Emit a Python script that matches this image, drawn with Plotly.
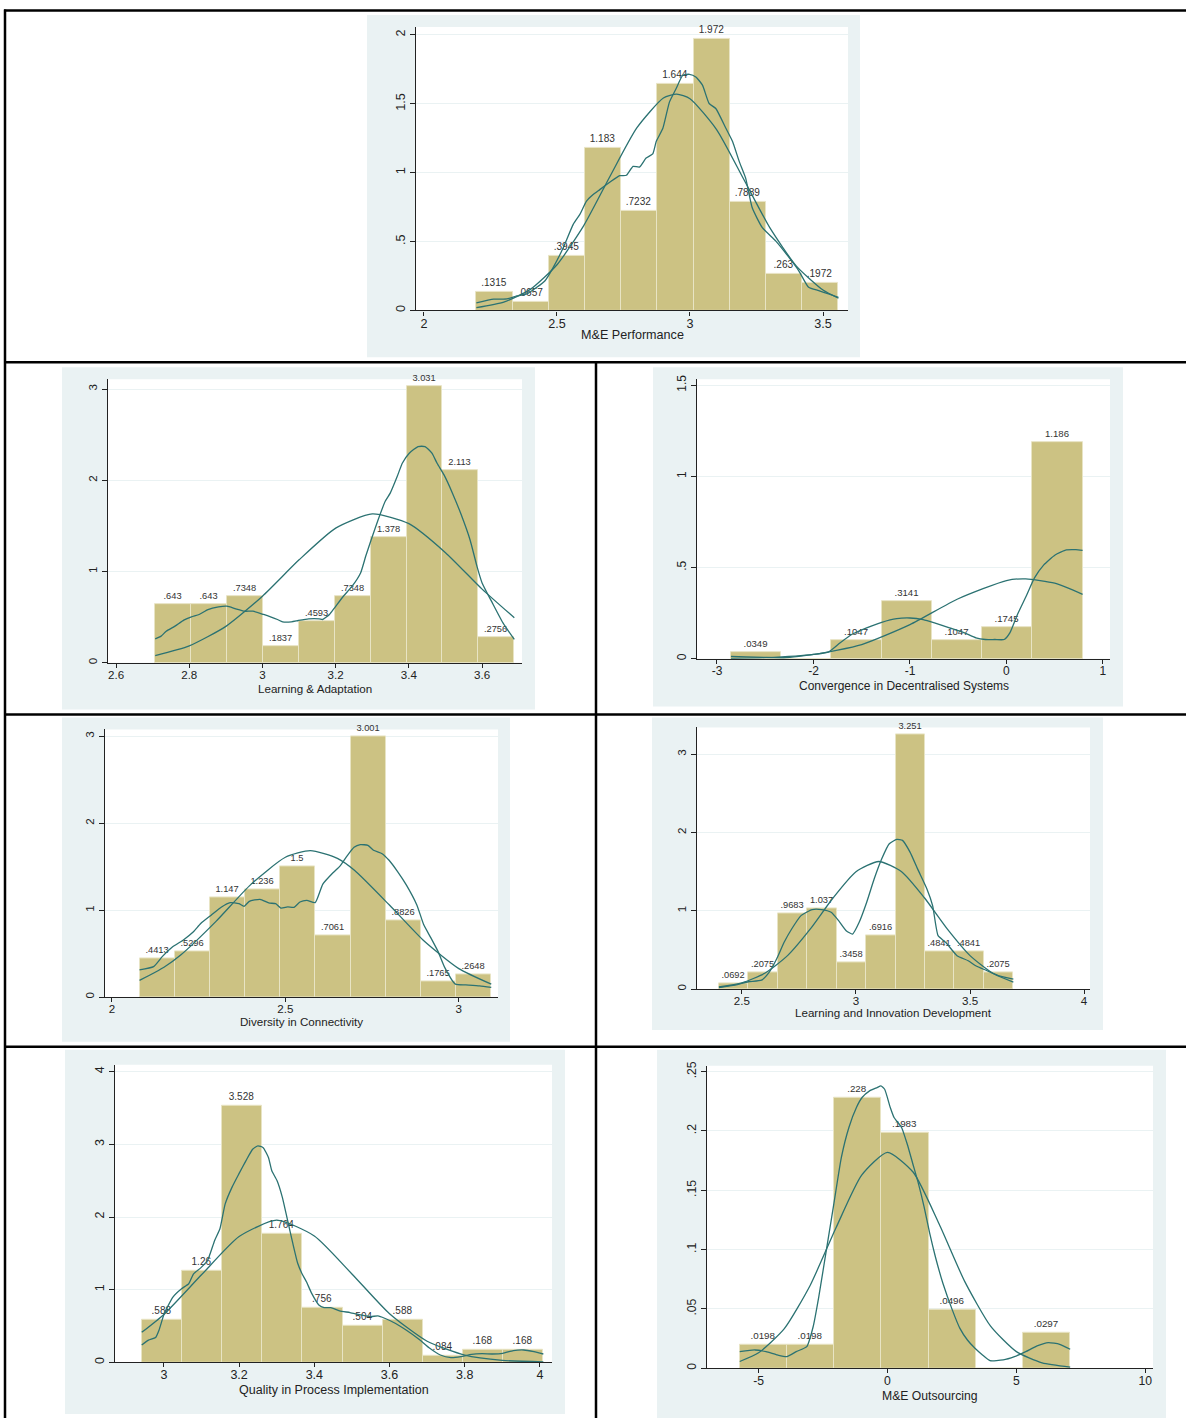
import plotly.graph_objects as go

W, H = 1186, 1420

# ---------------- data ----------------
# Panel 1
p1_title = "M&E Performance"
p1_bin_start, p1_bin_width = 2.197, 0.1361
p1_heights = [0.1315, 0.0657, 0.3945, 1.183, 0.7232, 1.644, 1.972, 0.7889, 0.263, 0.1972]
p1_xticks = [2, 2.5, 3, 3.5]
p1_yticks = [0, 0.5, 1, 1.5, 2]
p1_norm_x = [2.197, 2.3, 2.4, 2.5, 2.6, 2.7, 2.8, 2.9, 2.95, 3.0, 3.1, 3.2, 3.3, 3.4, 3.5, 3.558]
p1_norm_y = [0.021, 0.061, 0.153, 0.332, 0.614, 0.976, 1.325, 1.542, 1.570, 1.537, 1.313, 0.960, 0.601, 0.322, 0.148, 0.089]
p1_kde_x = [2.197, 2.262, 2.312, 2.349, 2.387, 2.424, 2.455, 2.486, 2.524, 2.561, 2.586, 2.611, 2.636, 2.661,
            2.698, 2.736, 2.761, 2.786, 2.810, 2.835, 2.860, 2.873, 2.898, 2.923, 2.948, 2.973, 2.998, 3.022,
            3.047, 3.072, 3.097, 3.135, 3.160, 3.185, 3.209, 3.234, 3.272, 3.322, 3.372, 3.409, 3.446, 3.484,
            3.521, 3.558]
p1_kde_y = [0.055, 0.082, 0.084, 0.106, 0.120, 0.168, 0.216, 0.313, 0.457, 0.625, 0.697, 0.793, 0.841, 0.877,
            0.930, 0.978, 0.981, 1.046, 1.041, 1.106, 1.137, 1.226, 1.322, 1.514, 1.611, 1.707, 1.714, 1.695,
            1.635, 1.502, 1.466, 1.322, 1.226, 1.082, 0.962, 0.745, 0.601, 0.505, 0.385, 0.288, 0.168, 0.144,
            0.120, 0.096]

# Panel 2
p2_title = "Learning & Adaptation"
p2_bin_start, p2_bin_width = 2.707, 0.0981
p2_heights = [0.643, 0.643, 0.7348, 0.1837, 0.4593, 0.7348, 1.378, 3.031, 2.113, 0.2756]
p2_xticks = [2.6, 2.8, 3, 3.2, 3.4, 3.6]
p2_yticks = [0, 1, 2, 3]
p2_norm_x = [2.707, 2.8, 2.9, 3.0, 3.1, 3.2, 3.3, 3.4, 3.5, 3.6, 3.688]
p2_norm_y = [0.078, 0.185, 0.399, 0.730, 1.128, 1.476, 1.632, 1.525, 1.207, 0.807, 0.493]
p2_kde_x = [2.707, 2.723, 2.737, 2.761, 2.785, 2.806, 2.827, 2.851, 2.880, 2.903, 2.927, 2.951, 2.974, 3.003,
            3.022, 3.041, 3.055, 3.079, 3.098, 3.126, 3.155, 3.164, 3.183, 3.197, 3.221, 3.245, 3.268, 3.282,
            3.297, 3.316, 3.335, 3.349, 3.368, 3.382, 3.401, 3.425, 3.444, 3.463, 3.477, 3.496, 3.519, 3.543,
            3.567, 3.586, 3.600, 3.628, 3.657, 3.688]
p2_kde_y = [0.262, 0.292, 0.346, 0.401, 0.467, 0.503, 0.529, 0.583, 0.612, 0.620, 0.591, 0.565, 0.565, 0.529,
            0.503, 0.474, 0.449, 0.449, 0.463, 0.481, 0.481, 0.474, 0.529, 0.602, 0.729, 0.839, 0.984, 1.167,
            1.349, 1.568, 1.768, 1.859, 2.041, 2.187, 2.297, 2.370, 2.370, 2.297, 2.187, 2.059, 1.859, 1.622,
            1.349, 1.057, 0.875, 0.656, 0.437, 0.255]

# Panel 3
p3_title = "Convergence in Decentralised Systems"
p3_bin_start, p3_bin_width = -2.855, 0.5206
p3_heights = [0.0349, 0, 0.1047, 0.3141, 0.1047, 0.1745, 1.186]
p3_xticks = [-3, -2, -1, 0, 1]
p3_yticks = [0, 0.5, 1, 1.5]
p3_norm_x = [-2.855, -2.5, -2, -1.5, -1, -0.5, 0, 0.2, 0.5, 0.789]
p3_norm_y = [0.002, 0.006, 0.024, 0.078, 0.187, 0.329, 0.429, 0.438, 0.414, 0.353]
p3_kde_x = [-2.855, -2.699, -2.504, -2.309, -2.152, -1.996, -1.840, -1.723, -1.605, -1.449, -1.293, -1.137,
            -1.0, -0.863, -0.746, -0.590, -0.434, -0.316, -0.219, -0.121, -0.023, 0.035, 0.113, 0.211, 0.289,
            0.387, 0.504, 0.621, 0.719, 0.789]
p3_kde_y = [0.0127, 0.0109, 0.0073, 0.0055, 0.0127, 0.0236, 0.0382, 0.0873, 0.1327, 0.1691, 0.2, 0.22,
            0.2236, 0.2145, 0.1964, 0.1691, 0.1418, 0.1145, 0.1055, 0.1055, 0.1055, 0.1418, 0.2418, 0.3509,
            0.4418, 0.5145, 0.5691, 0.5964, 0.5982, 0.5945]

# Panel 4
p4_title = "Diversity in Connectivity"
p4_bin_start, p4_bin_width = 2.0795, 0.1014
p4_heights = [0.4413, 0.5296, 1.147, 1.236, 1.5, 0.7061, 3.001, 0.8826, 0.1765, 0.2648]
p4_xticks = [2, 2.5, 3]
p4_yticks = [0, 1, 2, 3]
p4_norm_x = [2.0795, 2.15, 2.2, 2.3, 2.4, 2.5, 2.572, 2.65, 2.7, 2.8, 2.9, 3.0, 3.0936]
p4_norm_y = [0.193, 0.344, 0.490, 0.871, 1.294, 1.609, 1.685, 1.596, 1.456, 1.059, 0.645, 0.328, 0.149]
p4_kde_x = [2.0795, 2.120, 2.145, 2.175, 2.205, 2.235, 2.256, 2.286, 2.316, 2.341, 2.366, 2.381, 2.396, 2.427,
            2.452, 2.472, 2.487, 2.507, 2.525, 2.542, 2.562, 2.586, 2.608, 2.638, 2.658, 2.678, 2.698, 2.716,
            2.738, 2.754, 2.779, 2.799, 2.824, 2.849, 2.879, 2.899, 2.920, 2.940, 2.960, 2.990, 3.020, 3.060,
            3.0936]
p4_kde_y = [0.313, 0.351, 0.465, 0.579, 0.655, 0.751, 0.846, 0.942, 1.037, 1.087, 1.075, 1.045, 1.102, 1.125,
            1.083, 1.075, 1.025, 1.037, 1.033, 1.094, 1.113, 1.087, 1.300, 1.433, 1.510, 1.624, 1.723, 1.754,
            1.746, 1.689, 1.650, 1.574, 1.441, 1.288, 1.060, 0.831, 0.678, 0.526, 0.336, 0.149, 0.141, 0.130,
            0.111]

# Panel 5
p5_title = "Learning and Innovation Development"
p5_bin_start, p5_bin_width = 2.399, 0.1291
p5_heights = [0.0692, 0.2075, 0.9683, 1.037, 0.3458, 0.6916, 3.251, 0.4841, 0.4841, 0.2075]
p5_xticks = [2.5, 3, 3.5, 4]
p5_yticks = [0, 1, 2, 3]
p5_norm_x = [2.399, 2.5, 2.6, 2.7, 2.8, 2.9, 3.0, 3.1, 3.2, 3.3, 3.4, 3.5, 3.6, 3.69]
p5_norm_y = [0.027, 0.081, 0.202, 0.428, 0.769, 1.167, 1.500, 1.630, 1.500, 1.167, 0.769, 0.428, 0.202, 0.089]
p5_kde_x = [2.399, 2.470, 2.528, 2.586, 2.619, 2.652, 2.685, 2.718, 2.759, 2.808, 2.849, 2.891, 2.924, 2.957,
            2.985, 3.014, 3.047, 3.080, 3.113, 3.146, 3.179, 3.204, 3.237, 3.270, 3.311, 3.336, 3.360, 3.393,
            3.443, 3.492, 3.525, 3.575, 3.624, 3.690]
p5_kde_y = [0.021, 0.051, 0.094, 0.115, 0.213, 0.384, 0.598, 0.768, 0.939, 1.016, 1.016, 0.982, 0.875, 0.747,
            0.704, 0.854, 1.110, 1.409, 1.665, 1.857, 1.913, 1.900, 1.750, 1.536, 1.280, 1.067, 0.683, 0.598,
            0.427, 0.363, 0.299, 0.235, 0.171, 0.128]

# Panel 6
p6_title = "Quality in Process Implementation"
p6_bin_start, p6_bin_width = 2.941, 0.1068
p6_heights = [0.588, 1.26, 3.528, 1.764, 0.756, 0.504, 0.588, 0.084, 0.168, 0.168]
p6_xticks = [3, 3.2, 3.4, 3.6, 3.8, 4]
p6_yticks = [0, 1, 2, 3, 4]
p6_norm_x = [2.941, 3.0, 3.1, 3.2, 3.3, 3.4, 3.5, 3.6, 3.7, 3.8, 3.9, 4.009]
p6_norm_y = [0.412, 0.659, 1.204, 1.731, 1.956, 1.739, 1.216, 0.668, 0.289, 0.098, 0.026, 0.005]
p6_kde_x = [2.941, 2.959, 2.978, 2.987, 3.001, 3.024, 3.047, 3.066, 3.079, 3.098, 3.116, 3.135, 3.149, 3.163,
            3.181, 3.199, 3.218, 3.236, 3.250, 3.264, 3.278, 3.287, 3.301, 3.315, 3.329, 3.343, 3.356, 3.367,
            3.379, 3.393, 3.412, 3.426, 3.444, 3.467, 3.495, 3.523, 3.550, 3.569, 3.587, 3.615, 3.643, 3.680,
            3.707, 3.735, 3.763, 3.790, 3.818, 3.846, 3.873, 3.901, 3.929, 3.957, 3.984, 4.009]
p6_kde_y = [0.237, 0.305, 0.342, 0.442, 0.670, 0.898, 1.013, 1.081, 1.218, 1.300, 1.401, 1.678, 1.838, 2.180,
            2.408, 2.590, 2.773, 2.933, 2.979, 2.955, 2.819, 2.636, 2.499, 2.271, 1.952, 1.633, 1.359, 1.222,
            1.108, 0.948, 0.789, 0.752, 0.752, 0.707, 0.684, 0.652, 0.629, 0.638, 0.606, 0.537, 0.447, 0.310,
            0.192, 0.100, 0.064, 0.078, 0.109, 0.118, 0.114, 0.123, 0.160, 0.169, 0.146, 0.114]

# Panel 7
p7_title = "M&E Outsourcing"
p7_bin_start, p7_bin_width = -5.730, 1.831
p7_heights = [0.0198, 0.0198, 0.228, 0.1983, 0.0496, 0, 0.0297]
p7_xticks = [-5, 0, 5, 10]
p7_yticks = [0, 0.05, 0.1, 0.15, 0.2, 0.25]
p7_norm_x = [-5.73, -5, -4, -3, -2, -1, 0, 1, 2, 3, 4, 5, 6, 7.088]
p7_norm_y = [0.0057, 0.0130, 0.0334, 0.0698, 0.1182, 0.1628, 0.1820, 0.1652, 0.1218, 0.0730, 0.0355, 0.0140,
             0.0045, 0.0010]
p7_kde_x = [-5.730, -5.146, -4.708, -4.270, -3.905, -3.540, -3.131, -2.883, -2.664, -2.372, -2.080, -1.788,
            -1.496, -1.204, -0.985, -0.693, -0.401, -0.255, -0.109, 0.109, 0.255, 0.547, 0.766, 0.985, 1.204,
            1.423, 1.642, 1.861, 2.153, 2.518, 2.810, 3.102, 3.394, 3.686, 3.978, 4.489, 4.927, 5.365, 5.803,
            6.241, 6.679, 7.088]
p7_kde_y = [0.0140, 0.0154, 0.0140, 0.0112, 0.0098, 0.0140, 0.0182, 0.0350, 0.0602, 0.0994, 0.1386, 0.1778,
            0.2030, 0.2198, 0.2282, 0.2338, 0.2366, 0.2380, 0.2352, 0.2198, 0.2114, 0.2030, 0.1890, 0.1722,
            0.1554, 0.1358, 0.1134, 0.0938, 0.0714, 0.0490, 0.0336, 0.0238, 0.0168, 0.0112, 0.0064, 0.0070,
            0.0098, 0.0140, 0.0188, 0.0216, 0.0202, 0.0160]

# ---------------- layout (pixels) ----------------
panels = [
    dict(bg=(367, 10, 860, 354), pb=(416, 22, 848, 307), xr=[1.970, 3.594], yr=[0, 2.058], ty=332, fs=12.6,
         title=p1_title, bs=p1_bin_start, bw=p1_bin_width, h=p1_heights, xt=p1_xticks, yt=p1_yticks,
         nx=p1_norm_x, ny=p1_norm_y, kx=p1_kde_x, ky=p1_kde_y),
    dict(bg=(62, 364, 535, 708), pb=(108, 376, 522, 661), xr=[2.578, 3.709], yr=[0, 3.109], ty=687, fs=11.6,
         title=p2_title, bs=p2_bin_start, bw=p2_bin_width, h=p2_heights, xt=p2_xticks, yt=p2_yticks,
         nx=p2_norm_x, ny=p2_norm_y, kx=p2_kde_x, ky=p2_kde_y),
    dict(bg=(653, 364, 1123, 705), pb=(697, 376, 1110, 657), xr=[-3.207, 1.073], yr=[0, 1.533], ty=684, fs=12,
         title=p3_title, bs=p3_bin_start, bw=p3_bin_width, h=p3_heights, xt=p3_xticks, yt=p3_yticks,
         nx=p3_norm_x, ny=p3_norm_y, kx=p3_kde_x, ky=p3_kde_y),
    dict(bg=(62, 716, 510, 1042), pb=(105, 728, 498, 997), xr=[1.980, 3.113], yr=[0, 3.08], ty=1022, fs=11.6,
         title=p4_title, bs=p4_bin_start, bw=p4_bin_width, h=p4_heights, xt=p4_xticks, yt=p4_yticks,
         nx=p4_norm_x, ny=p4_norm_y, kx=p4_kde_x, ky=p4_kde_y),
    dict(bg=(652, 716, 1103, 1030), pb=(697, 726, 1090, 989), xr=[2.303, 4.026], yr=[0, 3.343], ty=1012, fs=11.6,
         title=p5_title, bs=p5_bin_start, bw=p5_bin_width, h=p5_heights, xt=p5_xticks, yt=p5_yticks,
         nx=p5_norm_x, ny=p5_norm_y, kx=p5_kde_x, ky=p5_kde_y),
    dict(bg=(65, 1050, 565, 1416), pb=(115, 1065, 552, 1364), xr=[2.870, 4.032], yr=[0, 4.096], ty=1392, fs=12.5,
         title=p6_title, bs=p6_bin_start, bw=p6_bin_width, h=p6_heights, xt=p6_xticks, yt=p6_yticks,
         nx=p6_norm_x, ny=p6_norm_y, kx=p6_kde_x, ky=p6_kde_y),
    dict(bg=(657, 1050, 1166, 1420), pb=(707, 1066, 1153, 1370), xr=[-7.0, 10.3], yr=[0, 0.255], ty=1398, fs=12.2,
         title=p7_title, bs=p7_bin_start, bw=p7_bin_width, h=p7_heights, xt=p7_xticks, yt=p7_yticks,
         nx=p7_norm_x, ny=p7_norm_y, kx=p7_kde_x, ky=p7_kde_y),
]

FONT = "Liberation Sans, Arial, sans-serif"
BAR = "#CCC283"
BAR_LINE = "#E8E4C4"
CURVE = "#2B7272"
BG = "#EAF2F3"


def fmt(v):
    s = f"{v:.4g}"
    if s.startswith("0."):
        s = s[1:]
    elif s.startswith("-0."):
        s = "-" + s[2:]
    return s


def px_x(px):
    return px / W


def px_y(py):
    return 1 - py / H


fig = go.Figure()
shapes = []
annotations = []
layout_axes = {}

for i, p in enumerate(panels, start=1):
    xa = "x" if i == 1 else f"x{i}"
    ya = "y" if i == 1 else f"y{i}"
    bx0, by0, bx1, by1 = p["bg"]
    qx0, qy0, qx1, qy1 = p["pb"]
    fs = p["fs"]
    shapes.append(dict(type="rect", xref="paper", yref="paper", layer="below",
                       x0=px_x(bx0), x1=px_x(bx1), y0=px_y(by1), y1=px_y(by0),
                       fillcolor=BG, line=dict(width=0)))
    shapes.append(dict(type="rect", xref="paper", yref="paper", layer="below",
                       x0=px_x(qx0), x1=px_x(qx1), y0=px_y(qy1), y1=px_y(qy0),
                       fillcolor="white", line=dict(width=0)))

    edges = [p["bs"] + k * p["bw"] for k in range(len(p["h"]))]
    labels = [fmt(v) if v > 0 else "" for v in p["h"]]
    fig.add_trace(go.Bar(x=edges, y=p["h"], width=p["bw"], offset=0, xaxis=xa, yaxis=ya,
                         marker=dict(color=BAR, line=dict(color=BAR_LINE, width=1)),
                         text=labels, textposition="outside", constraintext="none",
                         textfont=dict(family=FONT, size=round(fs * 0.8, 1), color="#333333"),
                         cliponaxis=False, showlegend=False, hoverinfo="skip"))
    fig.add_trace(go.Scatter(x=p["nx"], y=p["ny"], mode="lines", xaxis=xa, yaxis=ya,
                             line=dict(color=CURVE, width=1.3, shape="spline", smoothing=0.6),
                             showlegend=False, hoverinfo="skip"))
    fig.add_trace(go.Scatter(x=p["kx"], y=p["ky"], mode="lines", xaxis=xa, yaxis=ya,
                             line=dict(color=CURVE, width=1.3, shape="spline", smoothing=0.5),
                             showlegend=False, hoverinfo="skip"))

    key_x = "xaxis" if i == 1 else f"xaxis{i}"
    key_y = "yaxis" if i == 1 else f"yaxis{i}"
    layout_axes[key_x] = dict(
        domain=[px_x(qx0), px_x(qx1)], range=p["xr"], anchor=ya,
        tickvals=p["xt"], ticktext=[fmt(v) for v in p["xt"]],
        ticks="outside", ticklen=4, tickwidth=1, tickcolor="#222", ticklabelstandoff=-3,
        showline=True, linecolor="#222", linewidth=1.2,
        showgrid=False, zeroline=False,
        tickfont=dict(family=FONT, size=fs, color="#222"),
    )
    layout_axes[key_y] = dict(
        domain=[px_y(qy1), px_y(qy0)], range=p["yr"], anchor=xa,
        tickvals=p["yt"], ticktext=[fmt(v) for v in p["yt"]], tickangle=-90,
        ticks="outside", ticklen=5, tickwidth=1, tickcolor="#222",
        showline=True, linecolor="#222", linewidth=1.2,
        showgrid=True, gridcolor=BG, gridwidth=1, zeroline=False,
        tickfont=dict(family=FONT, size=fs, color="#222"),
    )
    annotations.append(dict(text=p["title"], xref="paper", yref="paper",
                            x=px_x((qx0 + qx1) / 2), y=px_y(p["ty"]),
                            xanchor="center", yanchor="middle", showarrow=False,
                            font=dict(family=FONT, size=fs, color="#222")))


def hline(y, x0, x1):
    return dict(type="line", xref="paper", yref="paper", layer="above",
                x0=px_x(x0), x1=px_x(x1), y0=px_y(y), y1=px_y(y),
                line=dict(color="black", width=2.5))


def vline(x, y0, y1):
    return dict(type="line", xref="paper", yref="paper", layer="above",
                x0=px_x(x), x1=px_x(x), y0=px_y(y0), y1=px_y(y1),
                line=dict(color="black", width=2.5))


shapes += [hline(5.5, 4, 1186), hline(359, 4, 1186), hline(713, 4, 1186), hline(1047, 4, 1186),
           vline(5, 4.5, 1420), vline(596, 359, 1420)]

fig.update_layout(width=W, height=H, margin=dict(l=0, r=0, t=0, b=0),
                  paper_bgcolor="white", plot_bgcolor="white",
                  shapes=shapes, annotations=annotations, bargap=0, **layout_axes)

fig.write_html("out.html", config={"displayModeBar": False},
               post_script="document.body.style.margin='0px';document.body.style.padding='0px';"
                           "document.documentElement.style.overflow='hidden';")
